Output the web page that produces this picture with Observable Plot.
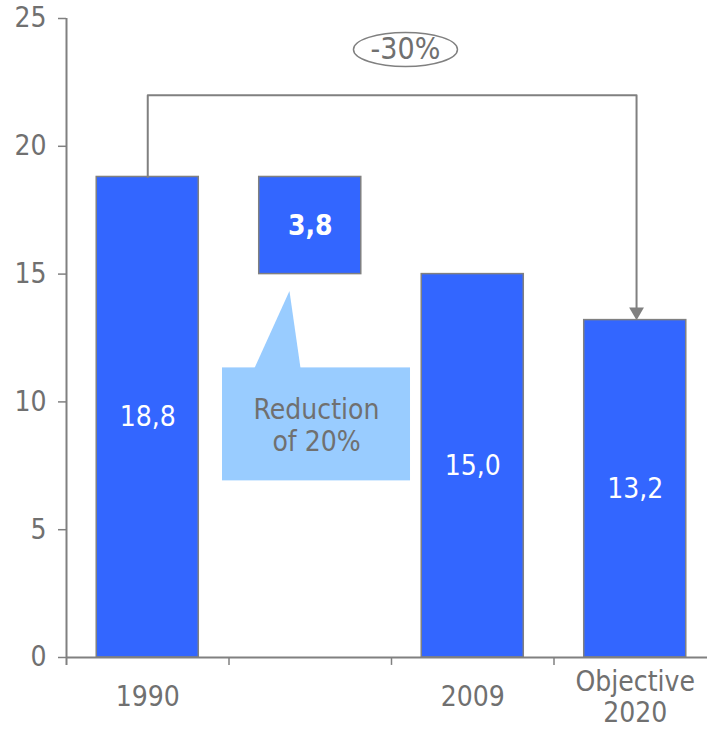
<!DOCTYPE html>
<html>
<head>
<meta charset="utf-8">
<script src="https://cdn.jsdelivr.net/npm/d3@7"></script>
<script src="https://cdn.jsdelivr.net/npm/@observablehq/plot@0.6"></script>
<style>
  html, body { margin: 0; padding: 0; background: #fff; }
  #chart svg { display: block; }
</style>
</head>
<body>
<div id="chart"></div>
<script>
// ---- data ----
const categories = ["1990", "Reduction", "2009", "Objective 2020"];
const tickLabels = ["1990", "", "2009", "Objective\n2020"];
const values = [18.8, null, 15.0, 13.2];
const valueLabels = ["18,8", "3,8", "15,0", "13,2"];
const yTicks = [0, 5, 10, 15, 20, 25];
const calloutText = "Reduction\nof 20%";
const bracketText = "-30%";

// ---- styling ----
const FONT = "'DejaVu Sans Condensed', 'DejaVu Sans', sans-serif";
const BLUE = "#3366ff";
const LIGHT = "#99ccff";
const GRAY = "#808080";
const TEXT = "#707070";
const FS = 28;
const HW = 0.314; // half bar width in category units

const idx = categories.map((c, i) => i);
const mainBars = idx.filter(i => values[i] != null).map(i => ({i, v: values[i], label: valueLabels[i]}));
const reduction = {i: 1, y1: values[2], y2: values[0], label: valueLabels[1]};

// annotation geometry (in data units)
const callout = {x1: 0.46, x2: 1.617, y1: 6.91, y2: 11.33};
const pointer = [
  {x: 0.657, y: callout.y2},
  {x: 0.872, y: 14.34},
  {x: 0.94, y: callout.y2}
];
const bracketY = 22;
const arrowX = 3.008;
const bracket = [
  {x: 0, y: values[0]},
  {x: 0, y: bracketY},
  {x: arrowX, y: bracketY},
  {x: arrowX, y: values[3] + 0.45}
];
const badge = {x: 1.586, y: 23.79};

const ellipseSymbol = {
  draw(ctx) {
    const rx = 52, ry = 17, k = 0.5523;
    ctx.moveTo(rx, 0);
    ctx.bezierCurveTo(rx, ry * k, rx * k, ry, 0, ry);
    ctx.bezierCurveTo(-rx * k, ry, -rx, ry * k, -rx, 0);
    ctx.bezierCurveTo(-rx, -ry * k, -rx * k, -ry, 0, -ry);
    ctx.bezierCurveTo(rx * k, -ry, rx, -ry * k, rx, 0);
    ctx.closePath();
  }
};

const chart = Plot.plot({
  width: 707,
  height: 733,
  marginTop: 18,
  marginBottom: 76,
  marginLeft: 66,
  marginRight: 0,
  style: {fontFamily: FONT, fontStretch: "condensed", color: GRAY, background: "#fff"},
  x: {domain: [-0.5, 3.5], range: [66, 716], axis: null},
  y: {domain: [0, 25], axis: null},
  marks: [
    // axes
    Plot.axisY({ticks: yTicks, tickSize: 8, tickPadding: 12, fontSize: FS, stroke: GRAY, strokeWidth: 1.5, fill: TEXT}),
    Plot.ruleX([-0.5], {y1: -0.31, y2: 25, stroke: GRAY, strokeWidth: 2}),
    Plot.ruleX(idx.slice(1), {x: i => i - 0.5, y1: 0, y2: -0.31, stroke: GRAY, strokeWidth: 1.5}),
    // main bars
    Plot.rectY(mainBars, {x1: d => d.i - HW, x2: d => d.i + HW, y1: 0, y2: "v", fill: BLUE, stroke: GRAY, strokeWidth: 1.5}),
    // floating reduction bar
    Plot.rectY([reduction], {x1: d => d.i - HW, x2: d => d.i + HW, y1: "y1", y2: "y2", fill: BLUE, stroke: GRAY, strokeWidth: 1.5}),
    Plot.ruleY([0], {stroke: GRAY, strokeWidth: 2}),
    // value labels
    Plot.text(mainBars, {x: "i", y: d => d.v / 2, text: "label", fill: "white", fontSize: FS}),
    Plot.text([reduction], {x: "i", y: d => (d.y1 + d.y2) / 2, text: "label", fill: "white", fontSize: FS, fontWeight: "bold"}),
    // callout
    Plot.rect([callout], {x1: "x1", x2: "x2", y1: "y1", y2: "y2", fill: LIGHT}),
    Plot.line(pointer, {x: "x", y: "y", fill: LIGHT, stroke: "none", curve: "linear-closed"}),
    Plot.text([callout], {x: d => (d.x1 + d.x2) / 2, y: d => (d.y1 + d.y2) / 2, text: () => calloutText, fill: TEXT, fontSize: FS, lineHeight: 1.15}),
    // bracket with arrow
    Plot.line(bracket, {x: "x", y: "y", stroke: GRAY, strokeWidth: 2}),
    Plot.dot([{x: arrowX, y: values[3]}], {x: "x", y: "y", symbol: "triangle", rotate: 180, r: 5.5, dy: -8.3, fill: GRAY, stroke: "none"}),
    Plot.dot([badge], {x: "x", y: "y", symbol: ellipseSymbol, fill: "white", stroke: GRAY, strokeWidth: 1.5}),
    Plot.text([badge], {x: "x", y: "y", text: () => bracketText, fill: TEXT, fontSize: 30}),
    // category labels
    Plot.text(idx, {x: i => i, y: 0, dy: 39, text: i => tickLabels[i], lineAnchor: "middle", lineHeight: 1.1, fill: TEXT, fontSize: FS})
  ]
});
document.getElementById("chart").appendChild(chart);
</script>
</body>
</html>
